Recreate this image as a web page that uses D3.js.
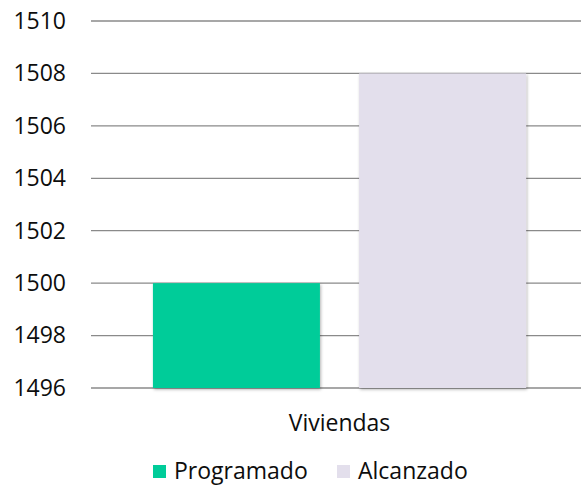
<!DOCTYPE html>
<html>
<head>
<meta charset="utf-8">
<script src="https://cdn.jsdelivr.net/npm/d3@7"></script>
<style>
  body { margin: 0; background: #fff; }
  text { font-family: "Open Sans", sans-serif; fill: #0d0d0d; }
</style>
</head>
<body>
<svg id="chart" width="581" height="494"></svg>
<script>
// Chart data
const categories = ['Viviendas'];
const series = ['Programado', 'Alcanzado'];
const values = [1500, 1508];
const colors = ['#00CC99', '#E3DFEC'];
const yTicks = [1496, 1498, 1500, 1502, 1504, 1506, 1508, 1510];

const svg = d3.select('#chart');
const plot = { left: 91, right: 588, top: 21, bottom: 388 };

// Shadow under the bars
const defs = svg.append('defs');
defs.append('filter')
    .attr('id', 'shadow')
    .attr('x', '-10%').attr('y', '-10%')
    .attr('width', '120%').attr('height', '120%')
  .append('feDropShadow')
    .attr('dx', 1).attr('dy', 1.5)
    .attr('stdDeviation', 1.5)
    .attr('flood-color', '#000')
    .attr('flood-opacity', 0.3);

const y = d3.scaleLinear()
    .domain([d3.min(yTicks), d3.max(yTicks)])
    .range([plot.bottom, plot.top]);

const x0 = d3.scaleBand()
    .domain(categories)
    .range([plot.left, plot.right])
    .paddingInner(0)
    .paddingOuter(0.166);

const x1 = d3.scaleBand()
    .domain(series)
    .range([0, x0.bandwidth()])
    .paddingInner(0.19)
    .paddingOuter(0);

// Gridlines
svg.append('g')
  .selectAll('line')
  .data(yTicks)
  .enter().append('line')
    .attr('x1', plot.left)
    .attr('x2', 581)
    .attr('y1', d => y(d))
    .attr('y2', d => y(d))
    .attr('stroke', '#8a8a8a')
    .attr('stroke-width', 1.3);

// Y axis labels
const yAxis = d3.axisLeft(y)
    .tickValues(yTicks)
    .tickFormat(d3.format('d'))
    .tickSize(0)
    .tickPadding(0);
const yg = svg.append('g')
    .attr('transform', 'translate(66,0)')
    .call(yAxis);
yg.select('.domain').remove();
yg.selectAll('text')
    .style('font-family', '"Open Sans", sans-serif')
    .style('font-size', '23px')
    .attr('fill', '#0d0d0d');

// Bars
const rows = series.map((s, i) => ({ category: categories[0], series: s, value: values[i], color: colors[i] }));
svg.append('g')
  .selectAll('rect')
  .data(rows)
  .enter().append('rect')
    .attr('x', d => x0(d.category) + x1(d.series))
    .attr('y', d => y(d.value))
    .attr('width', x1.bandwidth())
    .attr('height', d => y(d3.min(yTicks)) - y(d.value))
    .attr('fill', d => d.color)
    .attr('filter', 'url(#shadow)');

// Category label
svg.append('g')
  .selectAll('text')
  .data(categories)
  .enter().append('text')
    .attr('x', d => x0(d) + x0.bandwidth() / 2)
    .attr('y', 431)
    .attr('text-anchor', 'middle')
    .style('font-size', '23px')
    .text(d => d);

// Legend
const legendX = [153, 337];
const legend = svg.append('g')
  .selectAll('g')
  .data(series)
  .enter().append('g')
    .attr('transform', (d, i) => `translate(${legendX[i]}, 465)`);

legend.append('rect')
    .attr('width', 13)
    .attr('height', 13)
    .attr('fill', (d, i) => colors[i]);

legend.append('text')
    .attr('x', 21)
    .attr('y', 14)
    .style('font-size', '23px')
    .text(d => d);
</script>
</body>
</html>
